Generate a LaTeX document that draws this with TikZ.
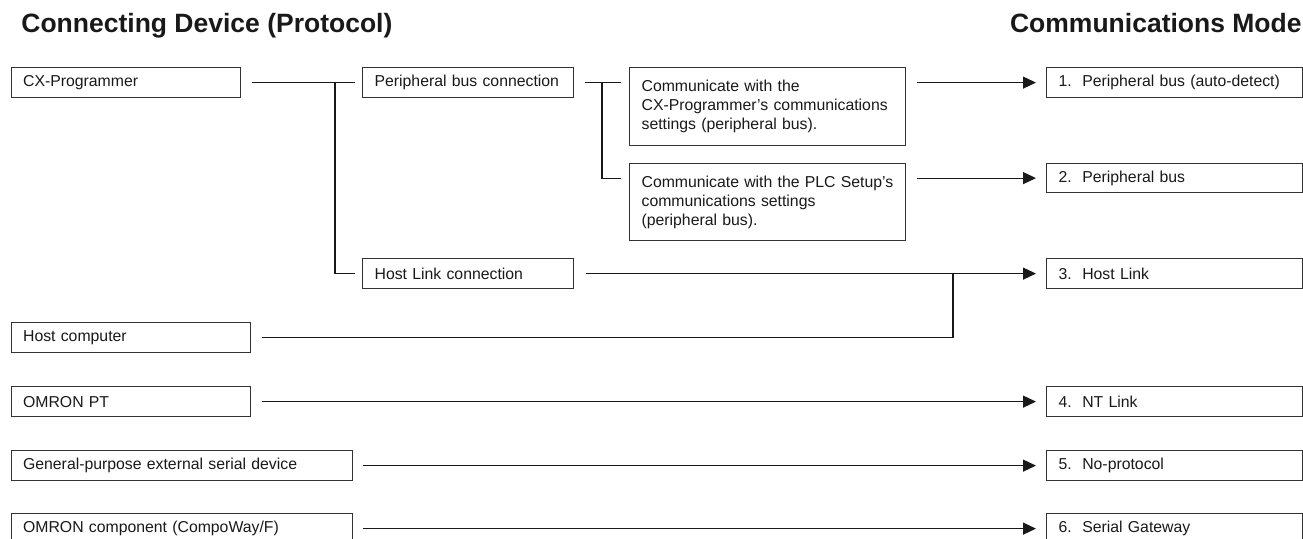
\documentclass[tikz,border=0pt]{standalone}
\usepackage{fontspec}
\setmainfont{Liberation Sans}
\usepackage{tikz}
\usetikzlibrary{arrows.meta,calc,positioning}

\begin{document}
\begin{tikzpicture}[x=0.5pt,y=-0.5pt,
  box/.style={draw=black!80,line width=0.6pt,anchor=north west,align=left,
    inner xsep=6pt,inner ysep=0pt,minimum height=15pt,text=black!90,
    font=\fontsize{7.9}{9.5}\selectfont},
  wire/.style={line width=0.6pt,black!90},
  arr/.style={wire,-{Triangle[length=6.5pt,width=6pt]}},
  head/.style={inner sep=0pt,text=black!90,font=\fontsize{13.25}{16}\selectfont\bfseries}]
\clip (0,0) rectangle (1303,538);
\node[head,anchor=base west] (lhead) at (21,32) {Connecting Device (Protocol)};
\node[head,anchor=base east] (rhead) at (1302,32) {Communications Mode};
% connecting devices
\node[box,text width=102.75pt] (cx) at (10.5,67) {CX-Programmer};
\node[box,text width=107.75pt] (hc) at (10.5,322) {Host computer};
\node[box,text width=107.75pt] (pt) at (10.5,386) {OMRON PT};
\node[box,text width=158.75pt] (gp) at (10.5,450) {General-purpose external serial device};
\node[box,text width=158.75pt] (oc) at (10.5,513) {OMRON component (CompoWay/F)};
\node[box,text width=93.5pt] (pbc) at (362,67) {Peripheral bus connection};
\node[box,text width=93.5pt] (hlc) at (362,258) {Host Link connection};
\node[box,text width=126pt,minimum height=39pt] (cpa) at (629,67) {Communicate with the\\CX-Programmer's communications\\settings (peripheral bus).};
\node[box,text width=126pt,minimum height=38.5pt] (cpb) at (629,163) {Communicate with the PLC Setup's\\communications settings\\(peripheral bus).};
% modes
\node[box,text width=115.75pt] (m1) at (1046,67) {1.\ \ Peripheral bus (auto-detect)};
\node[box,text width=115.75pt,minimum height=14.5pt] (m2) at (1046,163) {2.\ \ Peripheral bus};
\node[box,text width=115.75pt] (m3) at (1046,258) {3.\ \ Host Link};
\node[box,text width=115.75pt] (m4) at (1046,386) {4.\ \ NT Link};
\node[box,text width=115.75pt] (m5) at (1046,450) {5.\ \ No-protocol};
\node[box,text width=115.75pt] (m6) at (1046,513) {6.\ \ Serial Gateway};
\coordinate (trunk) at (335,82);
\coordinate (fork) at (602,82);
\coordinate (join) at (953,273);
% CX-Programmer branches
\draw[wire] ([xshift=5.35pt]cx.east) -- ([xshift=-3.5pt]pbc.west);
\draw[wire] (cx.east -| trunk) |- ([xshift=-3.5pt]hlc.west);
\draw[wire] ([xshift=5.5pt]pbc.east) -- ($(pbc.east -| cpa.west)+(-4pt,0)$);
\draw[wire] (pbc.east -| fork) |- ($(m2.west -| cpb.west)+(-4pt,0)$);
\draw[arr] ($(cpa.east |- m1.west)+(5.5pt,0)$) -- ([xshift=-5pt]m1.west);
\draw[arr] ($(cpb.east |- m2.west)+(5.5pt,0)$) -- ([xshift=-5pt]m2.west);
\draw[arr] ([xshift=6pt]hlc.east) -- ([xshift=-5pt]m3.west);
\draw[wire] ([xshift=5.5pt]hc.east) -| (join);
\draw[arr] ([xshift=5.5pt]pt.east) -- ([xshift=-5pt]m4.west);
\draw[arr] ([xshift=5pt]gp.east) -- ([xshift=-5pt]m5.west);
\draw[arr] ([xshift=5pt]oc.east) -- ([xshift=-5pt]m6.west);
\end{tikzpicture}
\end{document}
